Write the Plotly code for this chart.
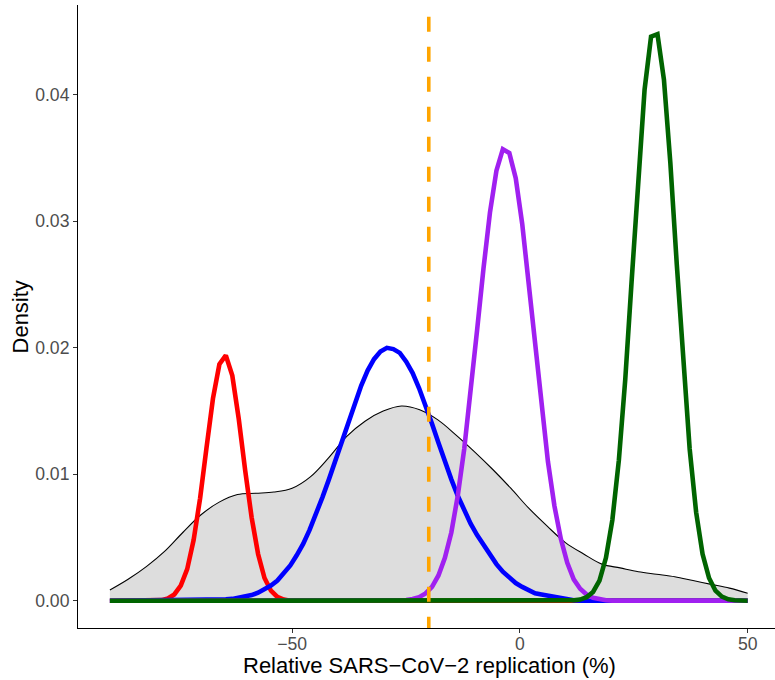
import plotly.graph_objects as go

# ---------------- data ----------------
# overall density (grey area)
grey_x = [-90, -86, -82, -78, -74, -70, -66, -62, -58, -54, -50, -46, -42, -38, -34, -30,
          -26, -22, -18, -14, -10, -6, -2, 2, 6, 10, 14, 18, 22, 26, 30, 34, 38, 42, 46, 50]
grey_y = [0.00085, 0.0017, 0.0027, 0.0039, 0.0054, 0.0068, 0.0078, 0.0084, 0.0085, 0.0086,
          0.0089, 0.0098, 0.0113, 0.0130, 0.0142, 0.0150, 0.0154, 0.0151, 0.0143, 0.0131,
          0.0118, 0.0104, 0.0089, 0.0073, 0.0059, 0.0046, 0.0037, 0.0029, 0.0026, 0.0023,
          0.0021, 0.0019, 0.0016, 0.0013, 0.0010, 0.0006]

red_x = [-90.0, -80.1, -78.69, -77.27, -75.86, -74.44, -73.03, -71.62, -70.2, -68.79, -67.37,
         -65.96, -64.55, -63.13, -61.72, -60.3, -58.89, -57.47, -56.06, -54.65, -53.23, -51.82,
         -50.4, 50.0]
red_y = [0, 0, 0.00005, 0.00018, 0.0005, 0.0012, 0.0025, 0.0048, 0.0081, 0.0121, 0.0160,
         0.0187, 0.0194, 0.0178, 0.0144, 0.0103, 0.0066, 0.0037, 0.0018, 0.0008, 0.0003, 0.0001,
         0, 0]

blue_x = [-90.0, -70.2, -68.79, -67.37, -65.96, -64.55, -63.13, -61.72, -60.3, -58.89, -57.47,
          -56.06, -54.65, -53.23, -51.82, -50.4, -48.99, -47.58, -46.16, -44.75, -43.33, -41.92,
          -40.51, -39.09, -37.68, -36.26, -34.85, -33.43, -32.02, -30.61, -29.19, -27.78, -26.36,
          -24.95, -23.54, -22.12, -20.71, -19.29, -17.88, -16.46, -15.05, -13.64, -12.22, -10.81,
          -9.39, -7.98, -6.57, -5.15, -3.74, -2.32, -0.91, 0.51, 1.92, 3.33, 4.75, 6.16, 7.58,
          8.99, 10.4, 11.82, 13.23, 50.0]
blue_y = [0, 0.00003, 0.00005, 0.00007, 0.0001, 0.00012, 0.00015, 0.00022, 0.00031, 0.00045,
          0.00064, 0.00089, 0.0012, 0.0016, 0.0022, 0.0028, 0.0036, 0.0045, 0.0056, 0.0068,
          0.0082, 0.0096, 0.0111, 0.0127, 0.0142, 0.0157, 0.0170, 0.0182, 0.0191, 0.0197,
          0.0200, 0.0199, 0.0196, 0.0189, 0.0180, 0.0168, 0.0155, 0.0140, 0.0125, 0.0110,
          0.0096, 0.0083, 0.0071, 0.0061, 0.0052, 0.0044, 0.0036, 0.0029, 0.0023, 0.0018,
          0.0014, 0.0011, 0.0008, 0.0006, 0.0005, 0.0004, 0.0003, 0.0002, 0.0001, 0.00005,
          0, 0]

purple_x = [-90.0, -27.78, -26.36, -24.95, -23.54, -22.12, -20.71, -19.29, -17.88, -16.46, -15.05,
            -13.64, -12.22, -10.81, -9.39, -7.98, -6.57, -5.15, -3.74, -2.32, -0.91, 0.51, 1.92,
            3.33, 4.75, 6.16, 7.58, 8.99, 10.4, 11.82, 13.23, 14.65, 16.06, 17.47, 18.89, 20.3,
            50.0]
purple_y = [0, 0, 0.00003, 0.00006, 0.00014, 0.00029, 0.00058, 0.0011, 0.0020, 0.0034, 0.0054,
            0.0083, 0.0120, 0.0164, 0.0214, 0.0263, 0.0307, 0.0340, 0.0357, 0.0354, 0.0334,
            0.0298, 0.0252, 0.0202, 0.0153, 0.0110, 0.0075, 0.0049, 0.0030, 0.0017, 0.00095,
            0.0005, 0.00024, 0.00011, 0.00005, 0, 0]

green_x = [-90.0, 10.4, 11.82, 13.23, 14.65, 16.06, 17.47, 18.89, 20.3, 21.72, 23.13, 24.55,
           25.96, 27.37, 28.79, 30.2, 31.62, 33.03, 34.44, 35.86, 37.27, 38.69, 40.1, 41.52,
           42.93, 44.34, 45.76, 47.17, 48.59, 50.0]
green_y = [0, 0, 0.00004, 0.0001, 0.00029, 0.0007, 0.0016, 0.0034, 0.0064, 0.0111, 0.0175,
           0.0254, 0.0335, 0.0404, 0.0446, 0.0448, 0.0412, 0.0346, 0.0266, 0.0186, 0.0120,
           0.0070, 0.0037, 0.0018, 0.0008, 0.00033, 0.00012, 0.00004, 0.00001, 0]

threshold_x = -20

x_tickvals = [-50, 0, 50]
x_ticktext = ["\u221250", "0", "50"]
y_tickvals = [0.00, 0.01, 0.02, 0.03, 0.04]
y_ticktext = ["0.00", "0.01", "0.02", "0.03", "0.04"]

x_title = "Relative SARS\u2212CoV\u22122 replication (%)"
y_title = "Density"

# ---------------- figure ----------------
FONT = "Liberation Sans, Arial, Helvetica, sans-serif"
fig = go.Figure()

fig.add_trace(go.Scatter(x=grey_x, y=grey_y, mode="lines", fill="tozeroy",
                         fillcolor="#DDDDDD", line=dict(width=0, shape="spline"),
                         hoverinfo="skip", showlegend=False))
fig.add_trace(go.Scatter(x=grey_x, y=grey_y, mode="lines",
                         line=dict(color="black", width=1.1, shape="spline"),
                         showlegend=False))

for xs, ys, col in [(red_x, red_y, "#FF0000"), (blue_x, blue_y, "#0000FF"),
                    (purple_x, purple_y, "#A020F0"), (green_x, green_y, "#006400")]:
    fig.add_trace(go.Scatter(x=xs, y=ys, mode="lines",
                             line=dict(color=col, width=4.6), showlegend=False))

fig.add_shape(type="line", xref="x", yref="paper", x0=threshold_x, x1=threshold_x,
              y0=1, y1=0, layer="above",
              line=dict(color="#FFA500", width=3.6, dash="0px,11.7px,15px,3.3px"))

fig.add_annotation(text=x_title, xref="paper", yref="paper", x=0.5036, y=-0.0594,
                   xanchor="center", yanchor="middle", showarrow=False,
                   font=dict(family=FONT, size=22, color="black"))
fig.add_annotation(text=y_title, xref="paper", yref="paper", x=-0.0818, y=0.5,
                   xanchor="center", yanchor="middle", showarrow=False, textangle=-90,
                   font=dict(family=FONT, size=22, color="black"))

fig.update_layout(
    width=775, height=680,
    margin=dict(l=78, r=0, t=5, b=52),
    paper_bgcolor="white", plot_bgcolor="white",
    showlegend=False,
    font=dict(family=FONT),
    xaxis=dict(range=[-97, 56], showgrid=False, zeroline=False,
               showline=True, linecolor="black", linewidth=1.1,
               ticks="outside", ticklen=4, tickwidth=1.1, tickcolor="#333333",
               tickvals=x_tickvals, ticktext=x_ticktext, ticklabelstandoff=-4,
               tickfont=dict(family=FONT, size=17.6, color="#4D4D4D")),
    yaxis=dict(range=[-0.00215, 0.0471], showgrid=False, zeroline=False,
               showline=True, linecolor="black", linewidth=1.1,
               ticks="outside", ticklen=4, tickwidth=1.1, tickcolor="#333333",
               tickvals=y_tickvals, ticktext=y_ticktext,
               tickfont=dict(family=FONT, size=17.6, color="#4D4D4D")),
)

fig.write_html("out.html")
